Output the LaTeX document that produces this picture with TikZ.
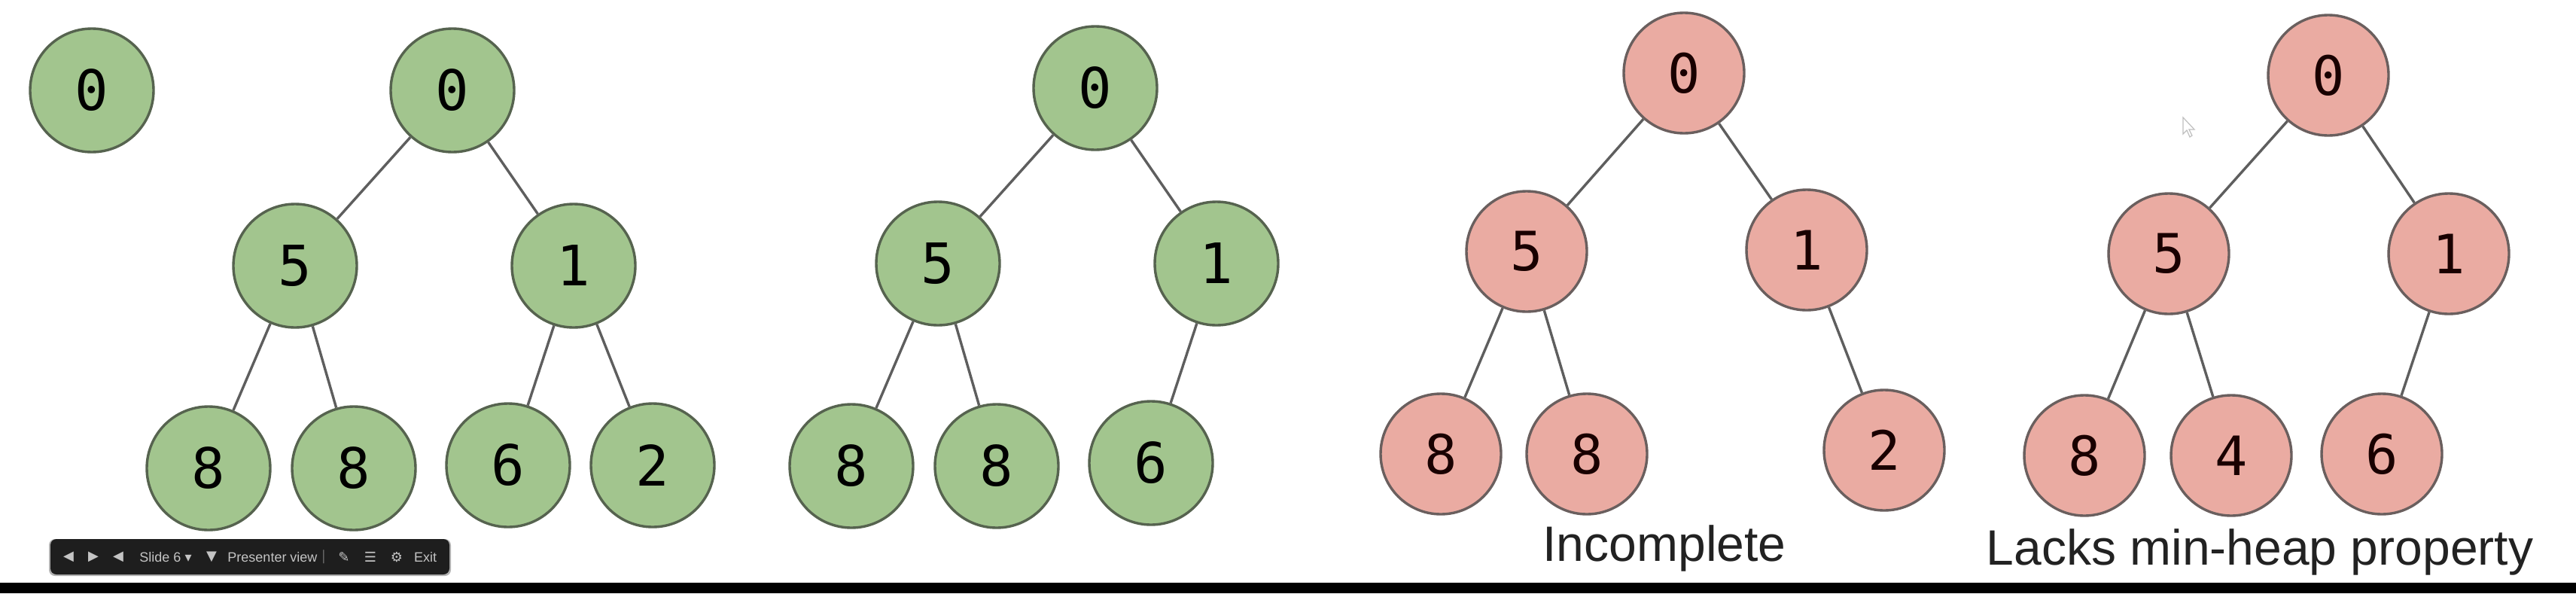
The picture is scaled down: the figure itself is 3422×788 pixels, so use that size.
\documentclass[tikz,border=0pt]{standalone}
\usepackage{fontspec}
\setmainfont{Liberation Sans}
\newfontfamily\digitfont{DejaVu Sans Mono}
\newfontfamily\symfont{DejaVu Sans}
\definecolor{gfill}{HTML}{A2C58E}
\definecolor{gborder}{HTML}{56634F}
\definecolor{pfill}{HTML}{EAABA2}
\definecolor{pborder}{HTML}{6A5F5E}
\definecolor{edgecol}{HTML}{5E5E5E}
\definecolor{tbcol}{HTML}{1E1E1E}
\definecolor{tbtext}{HTML}{C4C4C4}
\definecolor{labtext}{HTML}{222222}
\begin{document}
\begin{tikzpicture}[x=0.5pt,y=-0.5pt,
  gnode/.style={circle, draw=gborder, fill=gfill, line width=1.7pt, minimum size=82pt, inner sep=0pt, text=black, font=\digitfont\fontsize{37}{37}\selectfont},
  pnode/.style={circle, draw=pborder, fill=pfill, line width=1.7pt, minimum size=80pt, inner sep=0pt, text=black!90!red, font=\digitfont\fontsize{36}{36}\selectfont},
  edge/.style={draw=edgecol, line width=1.7pt},
  lab/.style={anchor=base, inner sep=0pt, text=labtext, font=\fontsize{33}{33}\selectfont},
  tb/.style={inner sep=0pt, text=tbtext, font=\fontsize{9}{9}\selectfont},
  tbsym/.style={inner sep=0pt, text=tbtext, font=\symfont\fontsize{9}{9}\selectfont}]
\useasboundingbox (0,0) rectangle (3422,788);
\fill[white] (0,0) rectangle (3422,788);
\fill[black] (0,774) rectangle (3422,788);

% lone node
\node[gnode] (a0) at (122,120) {0};

% tree 1 (complete)
\node[gnode] (b0) at (601,120) {0};
\node[gnode] (b5) at (392,353) {5};
\node[gnode] (b1) at (762,353) {1};
\node[gnode] (b8a) at (277,622) {8};
\node[gnode] (b8b) at (470,622) {8};
\node[gnode] (b6) at (675,618) {6};
\node[gnode] (b2) at (867,618) {2};
\draw[edge] (b0) -- (b5);
\draw[edge] (b0) -- (b1);
\draw[edge] (b5) -- (b8a);
\draw[edge] (b5) -- (b8b);
\draw[edge] (b1) -- (b6);
\draw[edge] (b1) -- (b2);

% tree 2
\node[gnode] (c0) at (1455,117) {0};
\node[gnode] (c5) at (1246,350) {5};
\node[gnode] (c1) at (1616,350) {1};
\node[gnode] (c8a) at (1131,619) {8};
\node[gnode] (c8b) at (1324,619) {8};
\node[gnode] (c6) at (1529,615) {6};
\draw[edge] (c0) -- (c5);
\draw[edge] (c0) -- (c1);
\draw[edge] (c5) -- (c8a);
\draw[edge] (c5) -- (c8b);
\draw[edge] (c1) -- (c6);

% tree 3 (incomplete)
\node[pnode] (d0) at (2237,97) {0};
\node[pnode] (d5) at (2028,334) {5};
\node[pnode] (d1) at (2400,332) {1};
\node[pnode] (d8a) at (1914,603) {8};
\node[pnode] (d8b) at (2108,603) {8};
\node[pnode] (d2) at (2503,598) {2};
\draw[edge] (d0) -- (d5);
\draw[edge] (d0) -- (d1);
\draw[edge] (d5) -- (d8a);
\draw[edge] (d5) -- (d8b);
\draw[edge] (d1) -- (d2);

% tree 4 (lacks min-heap property)
\node[pnode] (e0) at (3093,100) {0};
\node[pnode] (e5) at (2881,337) {5};
\node[pnode] (e1) at (3253,337) {1};
\node[pnode] (e8) at (2769,605) {8};
\node[pnode] (e4) at (2964,605) {4};
\node[pnode] (e6) at (3164,603) {6};
\draw[edge] (e0) -- (e5);
\draw[edge] (e0) -- (e1);
\draw[edge] (e5) -- (e8);
\draw[edge] (e5) -- (e4);
\draw[edge] (e1) -- (e6);

% labels
\node[lab] (l1) at (2211,745) {Incomplete};
\node[lab] (l2) at (3002,750) {Lacks min-heap property};

% mouse cursor
\draw[black!25, line width=0.6pt, fill=white] (2900,156) -- (2900,178) -- (2905,173) -- (2909,182) -- (2912,180) -- (2908,172) -- (2915,172) -- cycle;

% presentation toolbar
\fill[black!30, rounded corners=4pt] (65,716) rectangle (599,765);
\fill[tbcol, rounded corners=4pt] (67,716) rectangle (597,763);
\node[tbsym] (t1) at (91,740) {◀};
\node[tbsym] (t2) at (124,740) {▶};
\node[tbsym] (t3) at (157,740) {◀};
\node[tb] (t4) at (220,740) {Slide 6 \symfont▾};
\node[tbsym] (t5) at (281,740) {▼};
\node[tb] (t6) at (362,740) {Presenter view};
\node[tbsym, text=black!60] (t7) at (430,740) {|};
\node[tbsym] (t8) at (457,740) {✎};
\node[tbsym] (t9) at (492,740) {☰};
\node[tbsym] (t10) at (527,740) {⚙};
\node[tb] (t11) at (565,740) {Exit};
\end{tikzpicture}
\end{document}
